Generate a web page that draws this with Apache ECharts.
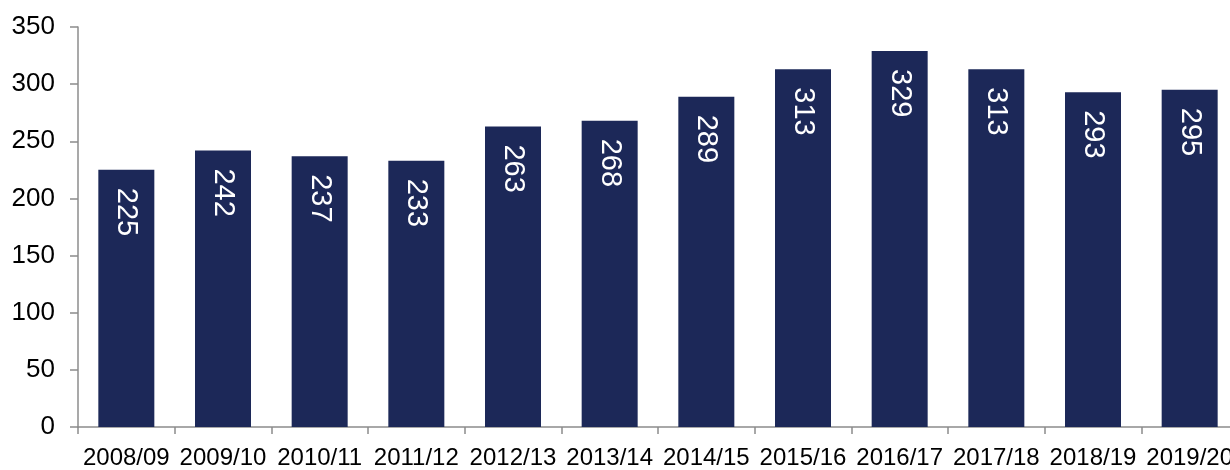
<!DOCTYPE html>
<html>
<head>
<meta charset="utf-8">
<script src="https://cdn.jsdelivr.net/npm/echarts@6/dist/echarts.min.js"></script>
<style>html,body{margin:0;padding:0;background:#fff;overflow:hidden;width:1230px;height:470px}#c{width:1250px;height:470px}</style>
</head>
<body>
<div id="c"></div>
<script>
const categories = ['2008/09','2009/10','2010/11','2011/12','2012/13','2013/14','2014/15','2015/16','2016/17','2017/18','2018/19','2019/20'];
const values = [225, 242, 237, 233, 263, 268, 289, 313, 329, 313, 293, 295];
const yTicks = { min: 0, max: 350, interval: 50 };

const chart = echarts.init(document.getElementById('c'), null, { renderer: 'canvas' });
const font = '"Liberation Sans", Arial, sans-serif';
chart.setOption({
  animation: false,
  grid: { left: 78, top: 27, bottom: 39, width: 1160, containLabel: false },
  xAxis: {
    type: 'category',
    data: categories,
    axisLine: { lineStyle: { color: '#8c8c8c', width: 1.5 } },
    axisTick: { show: true, alignWithLabel: false, length: 7, lineStyle: { color: '#8c8c8c', width: 1.5 } },
    axisLabel: { interval: 0, color: '#000', fontFamily: font, fontSize: 24, margin: 19 }
  },
  yAxis: {
    type: 'value',
    min: yTicks.min, max: yTicks.max, interval: yTicks.interval,
    splitLine: { show: false },
    axisLine: { show: true, lineStyle: { color: '#8c8c8c', width: 1.5 } },
    axisTick: { show: true, length: 8, lineStyle: { color: '#8c8c8c', width: 1.5 } },
    axisLabel: { color: '#000', fontFamily: font, fontSize: 26, margin: 23 }
  },
  series: [{
    type: 'bar',
    data: values,
    barWidth: 56,
    itemStyle: { color: '#1c2858' },
    label: {
      show: true,
      position: 'insideTop',
      distance: 18,
      rotate: -90,
      align: 'left',
      verticalAlign: 'middle',
      color: '#fff',
      fontFamily: font,
      fontSize: 29
    }
  }]
});
</script>
</body>
</html>
